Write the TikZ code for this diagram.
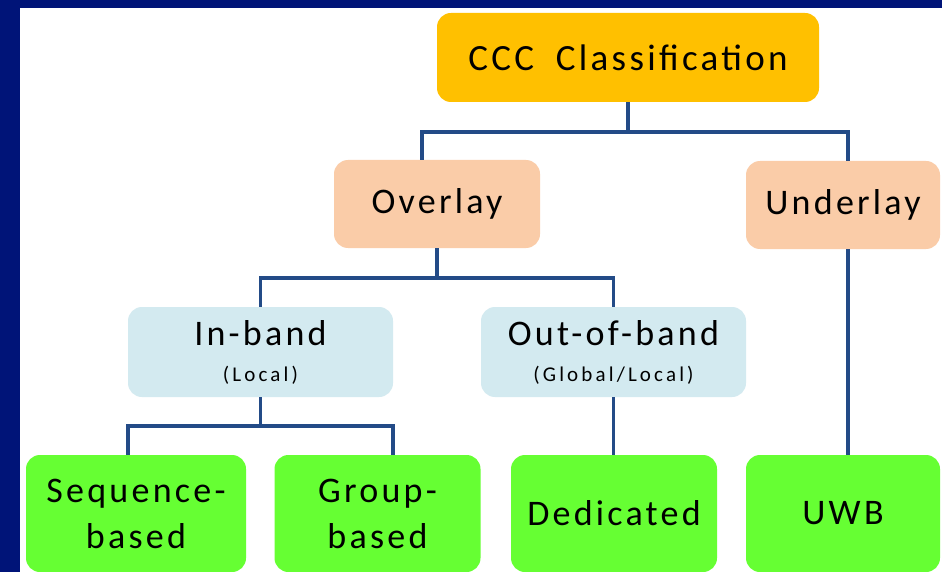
\documentclass[tikz,border=0pt]{standalone}
\usepackage{fontspec}
\setmainfont{Carlito}[LetterSpace=9]
\newfontfamily\subfont{Carlito}[LetterSpace=15]
\usetikzlibrary{calc}

\definecolor{frameblue}{RGB}{0,20,120}
\definecolor{rootgold}{RGB}{255,192,0}
\definecolor{peach}{RGB}{250,204,168}
\definecolor{paleblue}{RGB}{211,234,240}
\definecolor{leafgreen}{RGB}{102,255,51}
\definecolor{linkblue}{RGB}{35,75,135}

\newcommand{\sublabel}[1]{{\subfont\fontsize{21}{24}\selectfont #1}}

\begin{document}
\begin{tikzpicture}[x=1pt,y=-1pt,
  box/.style={rounded corners=14pt, inner sep=0pt, align=center, text=black,
              font=\fontsize{36}{46}\selectfont},
  rootbox/.style={box, fill=rootgold, minimum width=382pt, minimum height=89pt,
                  font=\fontsize{37}{46}\selectfont},
  modebox/.style={box, fill=peach, minimum height=88pt},
  bandbox/.style={box, fill=paleblue, minimum width=265pt, minimum height=90pt},
  leafbox/.style={box, fill=leafgreen, minimum height=117pt},
  link/.style={draw=linkblue, line width=3.5pt}]

% page, white sheet with the dark frame on the left and at the top
\useasboundingbox (0,0) rectangle (942,572);
\fill[white] (0,0) rectangle (942,572);
\fill[frameblue] (0,0) rectangle (20,572);
\fill[frameblue] (0,0) rectangle (942,8);

% boxes
\node[rootbox] (root) at (628,57.5) {CCC\hspace{10pt} Classification};

\node[modebox, minimum width=206pt] (overlay)  at (437,204) {Overlay};
\node[modebox, minimum width=194pt] (underlay) at (843,205) {Underlay};

\node[bandbox] (inband)  at (260.5,352)
  {In-band\\[-10pt]\sublabel{(Local)}};
\node[bandbox] (outband) at (613.5,352)
  {Out-of-band\\[-10pt]\sublabel{(Global/Local)}};

\node[leafbox, minimum width=220pt] (seq)   at (136,513.5) {Sequence-\\based};
\node[leafbox, minimum width=206pt] (group) at (377.5,513.5) {Group-\\based};
\node[leafbox, minimum width=206pt] (ded)   at (614,513.5) {Dedicated};
\node[leafbox, minimum width=194pt] (uwb)   at (843,513.5) {UWB};

% junction points of the tree
\coordinate (j0) at ($(root.south)+(0,30)$);
\coordinate (j1) at ($(overlay.south)+(0,30)$);
\coordinate (j2) at ($(inband.south)+(0,29)$);

% connectors
\draw[link] (root.south) -- (j0);
\draw[link] ([xshift=-15pt]overlay.north) |- (j0) -| ([xshift=5pt]underlay.north);

\draw[link] (overlay.south) -- (j1);
\draw[link] (inband.north) |- (j1) -| (outband.north);

\draw[link] (inband.south) -- (j2);
\draw[link] (seq.north -| inband.west) |- (j2) -| (group.north -| inband.east);

\draw[link] (outband.south) -- (outband.south |- ded.north);
\draw[link] ([xshift=5pt]underlay.south) -- ([xshift=5pt]underlay.south |- uwb.north);
\end{tikzpicture}
\end{document}
